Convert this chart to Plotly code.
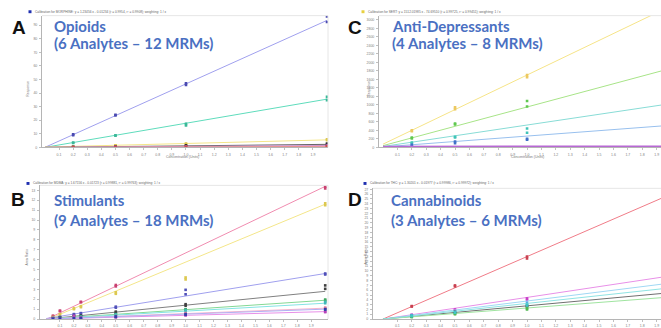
import plotly.graph_objects as go

W, H = 661, 328

# ---------------- data ----------------
# Panel A: Opioids (response x10 units)
A_conc = [0.2, 0.5, 1.0, 2.0]
A_mrm1 = [[9.6, 24.0, 47.2, 96.4], [3.6, 8.9, 17.3, 37.2], [0.6, 1.5, 2.8, 6.0],
          [0.3, 0.5, 1.5, 2.8], [0.2, 0.4, 0.7, 1.4], [0.1, 0.2, 0.4, 0.8]]
A_mrm2 = [[9.0, 23.5, 46.0, 92.3], [3.2, 8.5, 16.1, 34.8], [0.5, 1.3, 2.5, 5.2],
          [0.2, 0.4, 0.8, 2.0], [0.1, 0.3, 0.6, 1.1], [0.1, 0.1, 0.3, 0.6]]
A_fit0 = [0.0, 0.0, 0.2, 0.0, 0.0, 0.0]
A_fit2 = [93.5, 35.5, 5.5, 2.2, 1.3, 0.7]
A_header = "Calibration for MORPHINE: y = 1.23456 x - 0.01234 (r = 0.9954, r² = 0.9908); weighting: 1 / x"

# Panel C: Anti-Depressants
C_conc = [0.2, 0.5, 1.0, 2.0]
C_mrm1 = [[400, 940, 1700, 3300], [230, 560, 1090, 1900], [115, 250, 445, 1050], [60, 138, 200, 520]]
C_mrm2 = [[380, 900, 1650, 3250], [210, 540, 960, 1800], [90, 230, 345, 990], [30, 100, 180, 480]]
C_fit0 = [75, 40, 20, 10]
C_fit2 = [3330, 1860, 1030, 520]
C_flat = [10, 15]
C_header = "Calibration for SERT: y = 1512.01985 x - 74.69510 (r = 0.99725, r² = 0.99451); weighting: 1 / x"

# Panel B: Stimulants
B_conc = [0.05, 0.1, 0.2, 0.25, 0.5, 1.0, 2.0]
B_mrm1 = [[0.33, 0.85, None, 1.74, 3.44, None, 13.4],
          [0.2, 0.5, 1.08, 1.3, 2.7, 4.2, 11.7],
          [0.1, 0.2, 0.5, 0.6, 1.25, 2.95, 4.6],
          [0.05, 0.15, 0.3, 0.35, 0.75, 1.5, 3.4],
          [0.05, 0.1, 0.2, 0.25, 0.5, 1.0, 1.97],
          [0.04, 0.08, 0.18, 0.22, 0.45, 0.9, 1.74],
          [0.03, 0.06, 0.12, 0.15, 0.3, 0.6, 1.15],
          [0.02, 0.05, 0.33, 0.12, 0.2, 0.4, 0.75],
          [0.02, 0.04, 0.08, 0.1, 0.25, 0.5, 1.0]]
B_mrm2 = [[0.3, 0.8, None, 1.7, 3.3, None, 13.2],
          [0.18, 0.45, 1.0, 1.2, 2.55, 4.0, 11.5],
          [0.1, 0.2, 0.45, 0.55, 1.15, 2.5, 4.5],
          [0.05, 0.12, 0.25, 0.3, 0.65, 1.35, 3.05],
          [0.04, 0.1, 0.18, 0.22, 0.45, 0.95, 1.85],
          [0.04, 0.08, 0.16, 0.2, 0.42, 0.85, 1.6],
          [0.03, 0.06, 0.11, 0.14, 0.28, 0.55, 1.1],
          [0.02, 0.04, 0.09, 0.11, 0.18, 0.38, 0.7],
          [0.02, 0.04, 0.07, 0.09, 0.22, 0.45, 0.95]]
B_fit0 = [-0.05, -0.1, 0.05, 0.0, 0.0, 0.0, 0.0, 0.0, 0.0]
B_fit2 = [13.4, 11.6, 4.6, 2.8, 1.9, 1.6, 1.1, 0.75, 1.0]
B_header = "Calibration for MDMA: y = 1.67156 x - 0.01723 (r = 0.99881, r² = 0.99763); weighting: 1 / x"

# Panel D: Cannabinoids
D_conc = [0.2, 0.5, 1.0, 2.0]
D_mrm1 = [[2.7, 7.0, 13.0, 26.0], [0.9, 2.0, 4.3, 9.0], [0.8, 1.6, 3.4, 7.5],
          [0.6, 1.5, 2.7, 5.5], [0.5, 1.2, 2.2, 4.6], [0.7, 1.4, 3.0, 6.5]]
D_mrm2 = [[2.6, 6.8, 12.6, 25.6], [0.8, 1.8, 4.0, 8.7], [0.7, 1.5, 3.0, 7.2],
          [0.5, 1.2, 2.5, 5.3], [0.4, 1.0, 2.0, 4.4], [0.6, 1.3, 2.8, 6.2]]
D_fit0 = [0.0, 0.0, 0.0, 0.0, 0.0, 0.0]
D_fit2 = [26.0, 9.0, 7.5, 5.5, 4.6, 6.5]
D_header = "Calibration for THC: y = 1.30201 x - 0.01977 (r = 0.99986, r² = 0.99972); weighting: 1 / x"

x_ticks = [round(0.1 * i, 1) for i in range(1, 20)]

# ---------------- styles ----------------
A_line = ["#a0a0ee", "#5fdcbc", "#f4e68a", "#666666", "#c888d0", "#e89090"]
A_mark = ["#4a4ab0", "#3bb898", "#dcc850", "#333333", "#a850b0", "#c85050"]
C_line = ["#f6e488", "#a8e488", "#88dcd6", "#98c0ee"]
C_mark = ["#ecc860", "#60c850", "#40c4b8", "#4070c8"]
B_line = ["#f08cb0", "#f4e68a", "#a0a0ee", "#808080", "#84d894", "#84e4e4", "#f6b4cc", "#e890e8", "#b0b0f2"]
B_mark = ["#c84070", "#dcc850", "#5050b8", "#404040", "#40a860", "#40b8b8", "#e080a0", "#b840b8", "#3040a8"]
D_line = ["#f07c88", "#e890e8", "#a0d8f4", "#707070", "#a0e4a0", "#90e4e4"]
D_mark = ["#c84050", "#c840c8", "#50a8e4", "#404040", "#50b850", "#40c4c4"]

fig = go.Figure()

panels = {
    "A": dict(ax="", dx=(42, 328), dy=(15, 150), xr=[-0.021, 2.007], yr=[0, 97], ydt=10,
              conc=A_conc, m1=A_mrm1, m2=A_mrm2, f0=A_fit0, f2=A_fit2, lc=A_line, mc=A_mark),
    "C": dict(ax="2", dx=(379, 661), dy=(15, 150), xr=[-0.028, 1.93], yr=[0, 3100], ydt=200,
              conc=C_conc, m1=C_mrm1, m2=C_mrm2, f0=C_fit0, f2=C_fit2, lc=C_line, mc=C_mark),
    "B": dict(ax="3", dx=(40, 328), dy=(189, 326), xr=[-0.043, 2.02], yr=[0, 13.5], ydt=1,
              conc=B_conc, m1=B_mrm1, m2=B_mrm2, f0=B_fit0, f2=B_fit2, lc=B_line, mc=B_mark),
    "D": dict(ax="4", dx=(373, 661), dy=(192, 326), xr=[-0.069, 1.93], yr=[0, 27.2], ydt=1,
              conc=D_conc, m1=D_mrm1, m2=D_mrm2, f0=D_fit0, f2=D_fit2, lc=D_line, mc=D_mark),
}

def px(x):
    return x / W

def py(y):
    return 1 - y / H

for key, p in panels.items():
    xa, ya = "x" + p["ax"], "y" + p["ax"]
    for i in range(len(p["m1"])):
        fig.add_trace(go.Scatter(x=[0, 2.0], y=[p["f0"][i], p["f2"][i]], mode="lines",
                                 line=dict(color=p["lc"][i], width=1), xaxis=xa, yaxis=ya,
                                 showlegend=False, hoverinfo="skip"))
        fig.add_trace(go.Scatter(x=p["conc"] + p["conc"], y=p["m1"][i] + p["m2"][i], mode="markers",
                                 marker=dict(color=p["mc"][i], size=2.6, symbol="square"),
                                 xaxis=xa, yaxis=ya, showlegend=False))
    if key == "C":
        fig.add_trace(go.Scatter(x=[0, 2.0], y=C_flat, mode="lines",
                                 line=dict(color="#b868d4", width=2.5), xaxis=xa, yaxis=ya,
                                 showlegend=False))

lay = {}
axfont = dict(size=3.5, color="#808080", family="Liberation Sans")
for key, p in panels.items():
    xk = "xaxis" + p["ax"]
    yk = "yaxis" + p["ax"]
    lay[xk] = dict(domain=[px(p["dx"][0]), px(p["dx"][1])], range=p["xr"], anchor="y" + p["ax"],
                   tickvals=x_ticks, ticktext=[f"{t:.1f}" for t in x_ticks],
                   showgrid=False, zeroline=False, showline=True, linecolor="#b5b5b5", linewidth=1,
                   mirror=False, ticks="outside", ticklen=2, tickcolor="#c0c0c0",
                   tickfont=axfont, ticklabelstandoff=1)
    lay[yk] = dict(domain=[py(p["dy"][1]), py(p["dy"][0])], range=p["yr"], anchor="x" + p["ax"],
                   dtick=p["ydt"], tick0=0, showgrid=False, zeroline=False, showline=True,
                   linecolor="#b5b5b5", linewidth=1, ticks="outside", ticklen=2, tickcolor="#c0c0c0",
                   tickfont=axfont, ticklabelstandoff=1)

annotations = []
shapes = []

# faint frame top / right edges
for key, p in panels.items():
    x0, x1 = p["dx"]
    y0, y1 = p["dy"]
    shapes.append(dict(type="line", xref="paper", yref="paper", x0=px(x0), x1=px(x1), y0=py(y0), y1=py(y0),
                       line=dict(color="#e6e6e6", width=1)))
    if x1 < 660:
        shapes.append(dict(type="line", xref="paper", yref="paper", x0=px(x1), x1=px(x1), y0=py(y0), y1=py(y1),
                           line=dict(color="#e6e6e6", width=1)))

letters = [("A", 10, 27), ("C", 346, 27), ("B", 9, 203), ("D", 346, 203)]
for t, x, y in letters:
    annotations.append(dict(text=f"<b>{t}</b>", x=px(x), y=py(y), xref="paper", yref="paper",
                            xanchor="left", yanchor="middle", showarrow=False,
                            font=dict(family="Liberation Sans", size=19, color="#111111")))

title_color = "#4a70c2"
titles = [("Opioids", "(6 Analytes – 12 MRMs)", 52, 26, 43),
          ("Anti-Depressants", "(4 Analytes – 8 MRMs)", 390, 26, 43),
          ("Stimulants", "(9 Analytes – 18 MRMs)", 52, 204, 224),
          ("Cannabinoids", "(3 Analytes – 6 MRMs)", 389, 204, 224)]
for l1, l2, x, y1, y2 in titles:
    for txt, yy in ((l1, y1), (l2, y2)):
        annotations.append(dict(text=txt, x=px(x), y=py(yy), xref="paper", yref="paper",
                                xanchor="left", yanchor="middle", showarrow=False,
                                font=dict(family="Lato", size=15, color=title_color, weight=700)))

headers = [(A_header, 30, 11, "#2030b0"), (C_header, 363, 11, "#e8d040"),
           (B_header, 28, 187, "#2030b0"), (D_header, 365, 187, "#2030b0")]
for txt, x, y, col in headers:
    shapes.append(dict(type="rect", xref="paper", yref="paper", x0=px(x - 1.5), x1=px(x + 1.5),
                       y0=py(y + 1.5), y1=py(y - 1.5), fillcolor=col, line=dict(width=0)))
    annotations.append(dict(text=txt, x=px(x + 3), y=py(y), xref="paper", yref="paper",
                            xanchor="left", yanchor="middle", showarrow=False,
                            font=dict(family="Liberation Sans", size=3.2, color="#666666")))

# axis titles
for txt, x, y, ang in [("Response", 28, 90, -90), ("Response", 369, 90, -90),
                       ("Area Ratio", 27, 262, -90), ("Area Ratio", 366, 262, -90),
                       ("Concentration (Units)", 182, 159.5, 0), ("Concentration (Units)", 527, 159.5, 0)]:
    annotations.append(dict(text=txt, x=px(x), y=py(y), xref="paper", yref="paper",
                            xanchor="center", yanchor="middle", showarrow=False, textangle=ang,
                            font=dict(family="Liberation Sans", size=3.5, color="#777777")))

fig.update_layout(width=W, height=H, margin=dict(l=0, r=0, t=0, b=0),
                  paper_bgcolor="white", plot_bgcolor="white",
                  annotations=annotations, shapes=shapes, **lay)

fig.write_html("out.html")
